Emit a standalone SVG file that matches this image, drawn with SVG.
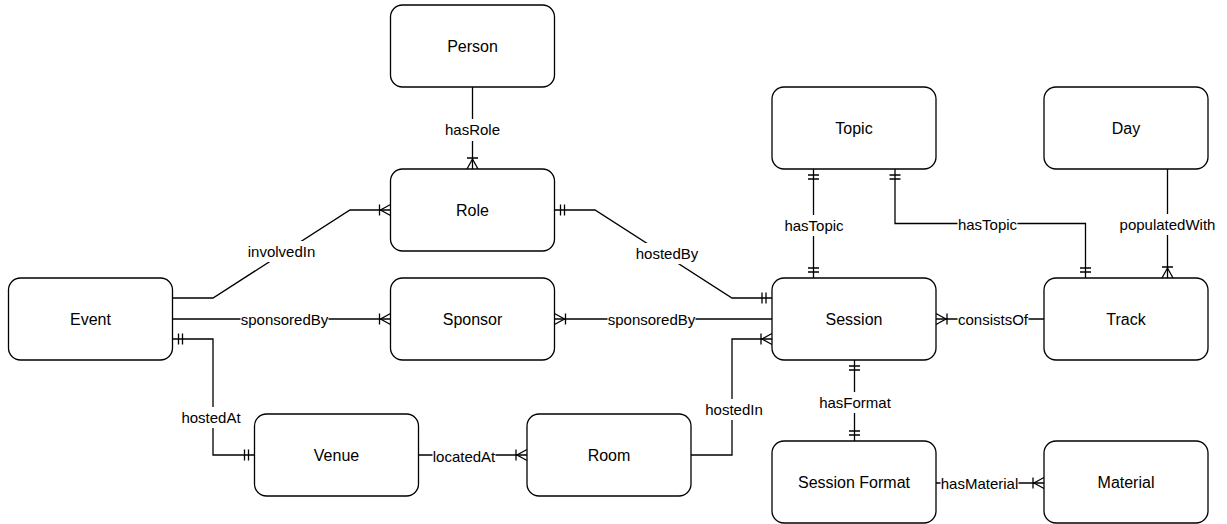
<svg xmlns="http://www.w3.org/2000/svg" width="1227" height="524" viewBox="0 0 1227 524">
<style>
.node rect{fill:#fff;stroke:#000;stroke-width:1.3}
.node text{font-family:"Liberation Sans",Arial,sans-serif;font-size:16px;fill:#000;text-anchor:middle}
.edge{fill:none;stroke:#000;stroke-width:1.3}
.lbl rect{fill:#fff;stroke:none}
.lbl text{font-family:"Liberation Sans",Arial,sans-serif;font-size:15px;fill:#000;text-anchor:middle}
</style>
<defs>
<marker id="many" markerUnits="userSpaceOnUse" viewBox="-14 -8 16 16" refX="0" refY="0" markerWidth="16" markerHeight="16" orient="auto-start-reverse">
<path d="M0,-5.5 L-10,0 L0,5.5 M-11,-5.5 L-11,5.5" fill="none" stroke="#000" stroke-width="1.3"/>
</marker>
<marker id="one" markerUnits="userSpaceOnUse" viewBox="-14 -8 16 16" refX="0" refY="0" markerWidth="16" markerHeight="16" orient="auto-start-reverse">
<path d="M-6,-5.5 L-6,5.5 M-10,-5.5 L-10,5.5" fill="none" stroke="#000" stroke-width="1.3"/>
</marker>
</defs>
<rect width="1227" height="524" fill="#fff"/>
<g id="connectors">
<path id="e-hasRole" class="edge" d="M472.5,87 V169" marker-end="url(#many)"/>
<path id="e-involvedIn" class="edge" d="M172.5,298 H213 L350,210 H390.5" marker-end="url(#many)"/>
<path id="e-sponsoredBy1" class="edge" d="M172.5,319 H390.5" marker-end="url(#many)"/>
<path id="e-hostedAt" class="edge" d="M172.5,339 H213 V455 H254.5" marker-start="url(#one)" marker-end="url(#one)"/>
<path id="e-locatedAt" class="edge" d="M418.5,455 H527" marker-end="url(#many)"/>
<path id="e-hostedIn" class="edge" d="M691,455 H732 V339 H772" marker-end="url(#many)"/>
<path id="e-hostedBy" class="edge" d="M554.5,210 H595 L732,298 H772" marker-start="url(#one)" marker-end="url(#one)"/>
<path id="e-sponsoredBy2" class="edge" d="M772,319 H554.5" marker-end="url(#many)"/>
<path id="e-hasTopic1" class="edge" d="M813.5,169 V278" marker-start="url(#one)" marker-end="url(#one)"/>
<path id="e-hasTopic2" class="edge" d="M895,169 V223.5 H1085.5 V278" marker-start="url(#one)" marker-end="url(#one)"/>
<path id="e-populatedWith" class="edge" d="M1167.5,169 V278" marker-end="url(#many)"/>
<path id="e-consistsOf" class="edge" d="M1044,319 H936" marker-end="url(#many)"/>
<path id="e-hasFormat" class="edge" d="M854.5,360 V441" marker-start="url(#one)" marker-end="url(#one)"/>
<path id="e-hasMaterial" class="edge" d="M936,483 H1044" marker-end="url(#many)"/>
<g class="lbl">
<rect x="444" y="119" width="57" height="22"/><text x="472.5" y="134.5">hasRole</text>
<rect x="247" y="241" width="69" height="21"/><text x="281.5" y="256.5">involvedIn</text>
<rect x="240.5" y="309" width="88" height="20"/><text x="284.5" y="324.5">sponsoredBy</text>
<rect x="607.5" y="309" width="88" height="20"/><text x="651.5" y="324.5">sponsoredBy</text>
<rect x="635" y="243" width="64" height="21"/><text x="667" y="258.5">hostedBy</text>
<rect x="784" y="215" width="60" height="21"/><text x="814" y="230.5">hasTopic</text>
<rect x="957.5" y="214" width="60" height="20"/><text x="987.5" y="229.5">hasTopic</text>
<rect x="1119" y="214" width="97" height="21"/><text x="1167.5" y="229.5">populatedWith</text>
<rect x="957.5" y="309" width="71" height="20"/><text x="993" y="324.5">consistsOf</text>
<rect x="819" y="392" width="72" height="21"/><text x="855" y="407.5">hasFormat</text>
<rect x="940.5" y="473" width="78" height="20"/><text x="979.5" y="488.5">hasMaterial</text>
<rect x="181" y="407" width="60" height="21"/><text x="211" y="422.5">hostedAt</text>
<rect x="432.5" y="446" width="63" height="20"/><text x="464" y="461.5">locatedAt</text>
<rect x="704" y="399" width="60" height="21"/><text x="734" y="414.5">hostedIn</text>
</g>
</g>
<g id="person" class="node"><rect x="390.5" y="5" width="164" height="82" rx="12"/><text x="472.5" y="51.5">Person</text></g>
<g id="role" class="node"><rect x="390.5" y="169" width="164" height="82" rx="12"/><text x="472.5" y="215.5">Role</text></g>
<g id="event" class="node"><rect x="8.5" y="278" width="164" height="82" rx="12"/><text x="90.5" y="324.5">Event</text></g>
<g id="sponsor" class="node"><rect x="390.5" y="278" width="164" height="82" rx="12"/><text x="472.5" y="324.5">Sponsor</text></g>
<g id="session" class="node"><rect x="772" y="278" width="164" height="82" rx="12"/><text x="854" y="324.5">Session</text></g>
<g id="topic" class="node"><rect x="772" y="87" width="164" height="82" rx="12"/><text x="854" y="133.5">Topic</text></g>
<g id="day" class="node"><rect x="1044" y="87" width="164" height="82" rx="12"/><text x="1126" y="133.5">Day</text></g>
<g id="track" class="node"><rect x="1044" y="278" width="164" height="82" rx="12"/><text x="1126" y="324.5">Track</text></g>
<g id="session-format" class="node"><rect x="772" y="441" width="164" height="82" rx="12"/><text x="854" y="487.5">Session Format</text></g>
<g id="material" class="node"><rect x="1044" y="441" width="164" height="82" rx="12"/><text x="1126" y="487.5">Material</text></g>
<g id="venue" class="node"><rect x="254.5" y="414" width="164" height="82" rx="12"/><text x="336.5" y="460.5">Venue</text></g>
<g id="room" class="node"><rect x="527" y="414" width="164" height="82" rx="12"/><text x="609" y="460.5">Room</text></g>
</svg>
